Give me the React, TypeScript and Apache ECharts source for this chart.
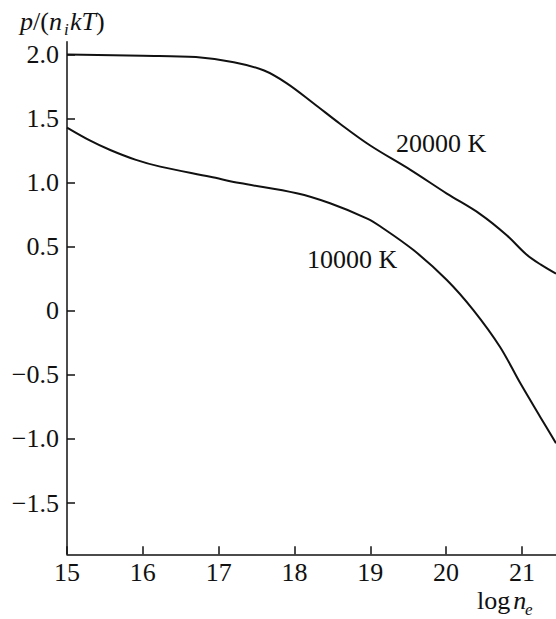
import React, { useEffect, useRef } from "react";
import * as echarts from "echarts";

const xTicks = [15, 16, 17, 18, 19, 20, 21];
const yTicks = [-1.5, -1, -0.5, 0, 0.5, 1, 1.5, 2];
const yTickLabels = ["\u22121.5", "\u22121.0", "\u22120.5", "0", "0.5", "1.0", "1.5", "2.0"];

const logNe20000 = [15, 16, 16.7, 17.2, 17.6, 17.9, 18.25, 18.6, 19.0, 19.53, 20.01, 20.45, 20.8, 21.06, 21.25, 21.45];
const ratio20000 = [2.0, 1.99, 1.98, 1.94, 1.875, 1.775, 1.62, 1.46, 1.29, 1.1, 0.915, 0.755, 0.59, 0.44, 0.36, 0.29];

const logNe10000 = [15, 15.3, 15.57, 15.9, 16.23, 16.89, 17.28, 18.03, 18.47, 18.96, 19.13, 19.57, 20.01, 20.36, 20.71, 20.98, 21.24, 21.45];
const ratio10000 = [1.43, 1.33, 1.255, 1.18, 1.125, 1.046, 0.997, 0.917, 0.839, 0.72, 0.66, 0.474, 0.241, 0.006, -0.28, -0.566, -0.826, -1.034];

const curveLabels = ["20000 K", "10000 K"];

const SERIF = "Liberation Serif";
const INK = "#111";

function pairs(xs: number[], ys: number[]) {
  return xs.map((x, i) => [x, ys[i]]);
}

export default function App() {
  const ref = useRef<HTMLDivElement>(null);
  useEffect(() => {
    if (!ref.current) return;
    const chart = echarts.init(ref.current, null, { renderer: "svg" });
    const fs = 26;
    const mid = (baseline: number, size: number) => baseline - 0.3375 * size;
    chart.setOption({
      animation: false,
      backgroundColor: "#fff",
      textStyle: { fontFamily: SERIF },
      grid: { left: 67, right: 0, top: 41.7, bottom: 64.7, containLabel: false },
      xAxis: {
        type: "value",
        min: 15,
        max: 21.45,
        axisLine: { show: true, onZero: false, lineStyle: { color: INK, width: 1.5 } },
        axisTick: { show: true, inside: true, length: 8, customValues: xTicks, lineStyle: { color: INK, width: 1.5 } },
        axisLabel: {
          customValues: xTicks,
          color: INK,
          fontFamily: SERIF,
          fontSize: fs,
          margin: 5,
          formatter: (v: number) => String(v),
        },
        splitLine: { show: false },
      },
      yAxis: {
        type: "value",
        min: -1.9,
        max: 2.1,
        axisLine: { show: true, onZero: false, lineStyle: { color: INK, width: 1.5 } },
        axisTick: { show: true, inside: true, length: 8, customValues: yTicks, lineStyle: { color: INK, width: 1.5 } },
        axisLabel: {
          customValues: yTicks,
          color: INK,
          fontFamily: SERIF,
          fontSize: fs,
          margin: 8,
          formatter: (v: number) => {
            const i = yTicks.findIndex((t) => Math.abs(t - v) < 1e-9);
            return i >= 0 ? yTickLabels[i] : "";
          },
        },
        splitLine: { show: false },
      },
      series: [
        {
          type: "line",
          data: pairs(logNe20000, ratio20000),
          smooth: 0.35,
          showSymbol: false,
          lineStyle: { color: INK, width: 2 },
        },
        {
          type: "line",
          data: pairs(logNe10000, ratio10000),
          smooth: 0.35,
          showSymbol: false,
          lineStyle: { color: INK, width: 2 },
        },
      ],
      graphic: [
        {
          type: "text",
          x: 20,
          y: mid(30, fs),
          style: {
            text: "{it|p}/({it|n}",
            font: `${fs}px ${SERIF}`,
            fill: INK,
            align: "left",
            verticalAlign: "middle",
            rich: { it: { fontStyle: "italic", fontFamily: SERIF, fontSize: fs, fill: INK } },
          },
        },
        {
          type: "text",
          x: 64,
          y: mid(35, 17),
          style: { text: "i", font: `italic 17px ${SERIF}`, fill: INK, align: "left", verticalAlign: "middle" },
        },
        {
          type: "text",
          x: 70,
          y: mid(30, fs),
          style: {
            text: "{it|kT})",
            font: `${fs}px ${SERIF}`,
            fill: INK,
            align: "left",
            verticalAlign: "middle",
            rich: { it: { fontStyle: "italic", fontFamily: SERIF, fontSize: fs, fill: INK } },
          },
        },
        {
          type: "text",
          x: 477,
          y: mid(609, fs),
          style: {
            text: "log{it|n}",
            font: `${fs}px ${SERIF}`,
            fill: INK,
            align: "left",
            verticalAlign: "middle",
            rich: { it: { fontStyle: "italic", fontFamily: SERIF, fontSize: fs, fill: INK, padding: [0, 0, 0, 3] } },
          },
        },
        {
          type: "text",
          x: 525,
          y: mid(615, 17),
          style: { text: "e", font: `italic 17px ${SERIF}`, fill: INK, align: "left", verticalAlign: "middle" },
        },
        {
          type: "text",
          x: 396,
          y: mid(152, fs),
          style: { text: curveLabels[0], font: `${fs}px ${SERIF}`, fill: INK, align: "left", verticalAlign: "middle" },
        },
        {
          type: "text",
          x: 307,
          y: mid(268, fs),
          style: { text: curveLabels[1], font: `${fs}px ${SERIF}`, fill: INK, align: "left", verticalAlign: "middle" },
        },
      ],
    });
    return () => chart.dispose();
  }, []);
  return (
    <div
      ref={ref}
      style={{ position: "fixed", left: 0, top: 0, width: 556, height: 619, background: "#fff" }}
    />
  );
}
